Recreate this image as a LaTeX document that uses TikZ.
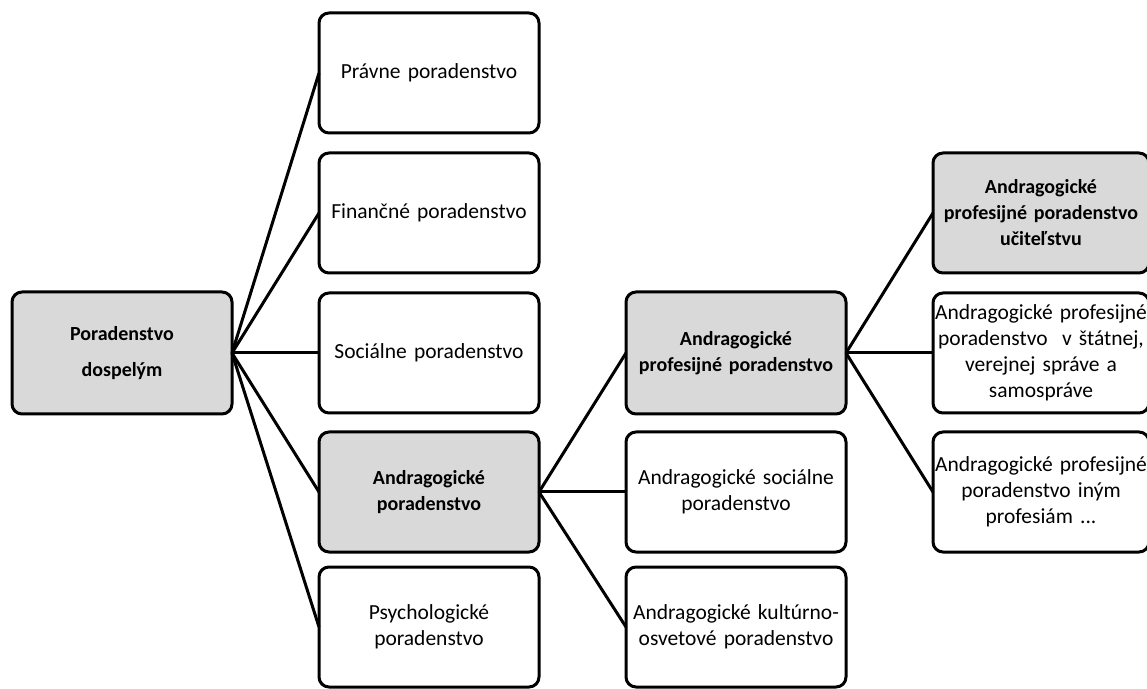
\documentclass[tikz,border=0pt]{standalone}
\usepackage{fontspec}
\setmainfont{Carlito}[WordSpace=0.75]
\usetikzlibrary{positioning}
\definecolor{boxgray}{RGB}{217,217,217}

\begin{document}
\begin{tikzpicture}[x=1pt,y=1pt,node distance=20pt and 87pt]
\tikzset{
  card/.style={draw=black,line width=3pt,rounded corners=10pt,fill=white,
               minimum width=220pt,minimum height=120pt,text width=214pt,
               inner sep=2pt,outer sep=0pt,align=center,
               font=\fontsize{21.5}{26}\selectfont},
  keycard/.style={card,fill=boxgray,font=\fontsize{20}{26}\selectfont\bfseries},
  narrow/.style={minimum width=212pt,text width=212pt},
  link/.style={line width=3pt}
}
\useasboundingbox (0,0) rectangle (1147,688);
\node[keycard,minimum height=122pt] (root) at (122,335) {Poradenstvo\\[10pt]dospelým};
\node[card,right=of root] (socialne) {Sociálne poradenstvo};
\node[card,above=of socialne] (financne) {Finančné poradenstvo};
\node[card,above=of financne] (pravne) {Právne poradenstvo};
\node[keycard,below=19pt of socialne] (andra) {Andragogické\\poradenstvo};
\node[card,below=15pt of andra] (psych) {Psychologické\\poradenstvo};
\node[keycard,minimum height=122pt,right=of socialne] (profes) {Andragogické\\profesijné poradenstvo};
\node[card,right=of andra] (asocial) {Andragogické sociálne\\poradenstvo};
\node[card,right=of psych] (kultur) {Andragogické kultúrno-\\osvetové poradenstvo};
\node[card,narrow,right=of profes] (statne) {Andragogické profesijné\\poradenstvo~ v štátnej,\\verejnej správe a\\samospráve};
\node[keycard,narrow,above=of statne] (ucitel) {Andragogické\\profesijné poradenstvo\\učiteľstvu};
\node[card,narrow,below=19pt of statne] (ine) {Andragogické profesijné\\poradenstvo iným\\profesiám ...};
% connectors
\foreach \n in {pravne,financne,socialne,andra,psych}
  \draw[link] (root.east) -- (\n.west);
\foreach \n in {profes,asocial,kultur}
  \draw[link] (andra.east) -- (\n.west);
\foreach \n in {ucitel,statne,ine}
  \draw[link] (profes.east) -- (\n.west);
\end{tikzpicture}
\end{document}
